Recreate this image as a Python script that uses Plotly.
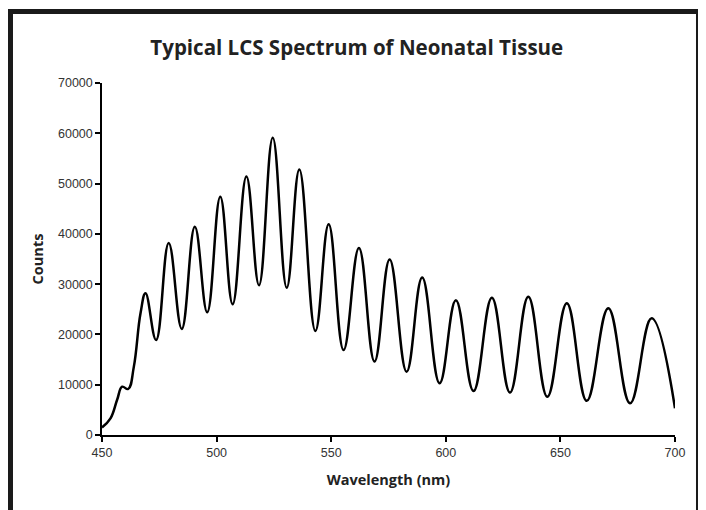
import plotly.graph_objects as go

# values (peaks, troughs and a few points on the rising edge)
wavelength = [450, 453.7, 456.6, 458.8, 461.4, 463.9, 466.8, 469.0, 473.6, 479.1,
              484.8, 490.5, 495.9, 501.6, 507.0, 513.0, 518.5, 524.5, 530.6, 536.1,
              543.1, 548.9, 555.4, 562.1, 568.9, 575.5, 582.9, 589.7, 597.3, 604.4,
              612.1, 620.1, 628.0, 636.0, 644.3, 652.8, 661.5, 670.9, 680.4, 689.8,
              700]
counts = [1500, 3300, 7000, 9600, 9150, 13600, 24200, 28200, 18900, 38200,
          21100, 41400, 24400, 47400, 26000, 51400, 29800, 59100, 29300, 52800,
          20700, 41900, 16900, 37200, 14600, 34900, 12600, 31300, 10300, 26800,
          8750, 27300, 8450, 27500, 7600, 26200, 6800, 25200, 6300, 23200,
          5300]

x_ticks = [450, 500, 550, 600, 650, 700]
y_ticks = [0, 10000, 20000, 30000, 40000, 50000, 60000, 70000]

bold = "Open Sans"
plain = "Liberation Sans, Arial, sans-serif"

fig = go.Figure()
fig.add_trace(
    go.Scatter(
        x=wavelength,
        y=counts,
        mode="lines",
        line=dict(color="black", width=2.5, shape="spline", smoothing=1.2),
        showlegend=False,
    )
)

fig.update_xaxes(
    range=[450, 700],
    tickvals=x_ticks,
    tickformat="d",
    ticks="outside",
    ticklen=5,
    tickwidth=1.5,
    tickcolor="black",
    showline=True,
    linecolor="black",
    linewidth=1.5,
    showgrid=False,
    zeroline=False,
    tickfont=dict(family=plain, size=12.5, color="#333"),
    title=dict(text="<b>Wavelength (nm)</b>", font=dict(family=bold, size=14.5, color="#222"), standoff=16),
)
fig.update_yaxes(
    range=[0, 70000],
    tickvals=y_ticks,
    tickformat="d",
    ticks="outside",
    ticklen=5,
    tickwidth=1.5,
    tickcolor="black",
    showline=True,
    linecolor="black",
    linewidth=1.5,
    showgrid=False,
    zeroline=False,
    tickfont=dict(family=plain, size=12.5, color="#333"),
    title=dict(text="<b>Counts</b>", font=dict(family=bold, size=14.5, color="#222"), standoff=11),
)

# thick frame around the whole graphic (open at the bottom edge of the picture)
fig.add_shape(
    type="rect", xref="paper", yref="paper",
    x0=-0.1597, x1=1.0410, y0=-0.3, y1=1.2031,
    line=dict(color="#1a1a1a", width=5),
)

# the page body adds an 8px offset, so the margins are shifted to compensate
fig.update_layout(
    width=706,
    height=510,
    margin=dict(l=94, r=39, t=75, b=83),
    paper_bgcolor="white",
    plot_bgcolor="white",
    title=dict(
        text="<b>Typical LCS Spectrum of Neonatal Tissue</b>",
        font=dict(family=bold, size=20.5, color="#222"),
        x=0.494, xref="container", xanchor="center",
        y=0.9215, yref="container", yanchor="middle",
    ),
)

fig.write_html("out.html")
